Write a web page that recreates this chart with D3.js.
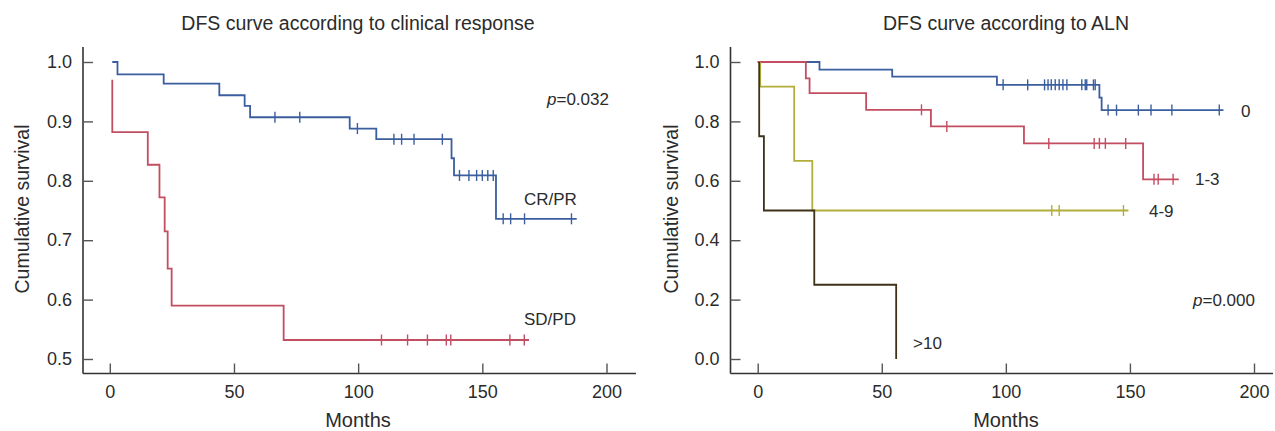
<!DOCTYPE html>
<html>
<head>
<meta charset="utf-8">
<script src="https://cdn.jsdelivr.net/npm/d3@7"></script>
<style>
  body { margin: 0; background: #fff; }
  svg text { font-family: "Liberation Sans", Arial, sans-serif; fill: #2b2b2b; }
</style>
</head>
<body>
<svg id="chart" width="1275" height="431"></svg>
<script>
// ---- data ----
const xTicks = [0, 50, 100, 150, 200];
const leftYTicks = [0.5, 0.6, 0.7, 0.8, 0.9, 1.0];
const rightYTicks = [0, 0.2, 0.4, 0.6, 0.8, 1.0];

// clinical response
const crprTimes = [1, 3.1, 21.7, 44.1, 54.3, 56.5, 96.6, 107.3, 137.6, 138.6, 155.5, 188];
const crprSurv  = [1.0, 0.979, 0.9635, 0.944, 0.926, 0.907, 0.888, 0.870, 0.838, 0.809, 0.736, 0.736];
const crprCensor = [66.5, 76.5, 99.7, 114.4, 117.5, 122.5, 133.9, 140.8, 144.6, 147.7, 150, 152.2, 154.4, 158.4, 161.4, 167, 185.9];

const sdpdTimes = [1, 1, 15.3, 20, 22.1, 23.3, 24.9, 70, 168.8];
const sdpdSurv  = [0.97, 0.882, 0.827, 0.772, 0.715, 0.652, 0.590, 0.532, 0.532];
const sdpdCensor = [109.4, 119.9, 127.9, 135.5, 137.3, 161.1, 166.9];

// ALN groups
const aln0Times = [0, 24.9, 54.2, 96.4, 137.7, 138.6, 187.7];
const aln0Surv  = [1.0, 0.974, 0.951, 0.923, 0.88, 0.838, 0.838];
const aln0Censor = [98.9, 108.8, 115.6, 117, 118.3, 119.9, 121.5, 123, 124.6, 130.6, 132, 132.6, 135.3, 136,
                    141.2, 144.6, 153.4, 158.5, 166.9, 186];

const aln13Times = [0, 19.4, 20.9, 43.7, 69.8, 107.3, 155.3, 169.7];
const aln13Surv  = [1.0, 0.945, 0.895, 0.839, 0.783, 0.726, 0.605, 0.605];
const aln13Censor = [66, 76.2, 117.3, 135.6, 137.7, 140.1, 148.3, 159.7, 161.4, 167.4];

const aln49Times = [1, 1, 14.7, 22, 149.4];
const aln49Surv  = [1.0, 0.917, 0.667, 0.5, 0.5];
const aln49Censor = [118.5, 121.5, 147.4];

const aln10Times = [0.6, 0.6, 2.5, 22.8, 55.8];
const aln10Surv  = [1.0, 0.75, 0.5, 0.25, 0.0];
const aln10Censor = [];

const svg = d3.select("#chart");
const axisColor = "#333";

function survAt(times, surv, t) {
  var i = d3.bisectRight(times, t) - 1;
  return surv[Math.max(i, 0)];
}

function drawPanel(cfg) {
  var g = svg.append("g");

  var x = d3.scaleLinear().domain([0, 200]).range(cfg.xRange);
  var y = d3.scaleLinear().domain(cfg.yDomain).range([359, 62]);

  // axes lines
  g.append("line")
    .attr("x1", cfg.axisX).attr("x2", cfg.axisX)
    .attr("y1", 47).attr("y2", 373.5)
    .attr("stroke", axisColor).attr("stroke-width", 1.6);
  g.append("line")
    .attr("x1", cfg.axisX).attr("x2", cfg.axisEnd)
    .attr("y1", 373.5).attr("y2", 373.5)
    .attr("stroke", axisColor).attr("stroke-width", 1.6);

  var yAxis = g.append("g")
    .attr("transform", "translate(" + cfg.axisX + ",0)")
    .call(d3.axisLeft(y).tickValues(cfg.yTicks).tickFormat(d3.format(".1f"))
      .tickSizeInner(-10).tickSizeOuter(0).tickPadding(11));
  var xAxis = g.append("g")
    .attr("transform", "translate(0,373.5)")
    .call(d3.axisBottom(x).tickValues(xTicks).tickFormat(d3.format("d"))
      .tickSizeInner(-10).tickSizeOuter(0).tickPadding(12));

  [yAxis, xAxis].forEach(function(a) {
    a.select(".domain").remove();
    a.selectAll(".tick line").attr("stroke", "#555").attr("stroke-width", 1.4);
    a.selectAll(".tick text").attr("font-size", 18).attr("fill", "#2b2b2b")
      .style("font-family", '"Liberation Sans", Arial, sans-serif');
  });

  // titles
  g.append("text")
    .attr("x", cfg.titleX).attr("y", 29.5)
    .attr("text-anchor", "middle").attr("font-size", 19.5)
    .text(cfg.title);
  g.append("text")
    .attr("x", cfg.titleX).attr("y", 427)
    .attr("text-anchor", "middle").attr("font-size", 20)
    .text("Months");
  g.append("text")
    .attr("transform", "translate(" + cfg.yTitleX + ",209) rotate(-90)")
    .attr("text-anchor", "middle").attr("font-size", 19.5)
    .text("Cumulative survival");

  var line = d3.line()
    .x(function(d) { return x(d[0]); })
    .y(function(d) { return y(d[1]); })
    .curve(d3.curveStepAfter);

  cfg.series.forEach(function(s) {
    g.append("path")
      .datum(d3.zip(s.times, s.surv))
      .attr("fill", "none")
      .attr("stroke", s.color)
      .attr("stroke-width", 1.8)
      .attr("d", line);

    g.selectAll(null)
      .data(s.censor)
      .enter()
      .append("line")
      .attr("x1", function(d) { return x(d); })
      .attr("x2", function(d) { return x(d); })
      .attr("y1", function(d) { return y(survAt(s.times, s.surv, d)) - 5.5; })
      .attr("y2", function(d) { return y(survAt(s.times, s.surv, d)) + 5.5; })
      .attr("stroke", s.color)
      .attr("stroke-width", 1.4);
  });

  cfg.labels.forEach(function(l) {
    var t = g.append("text")
      .attr("x", l.x).attr("y", l.y)
      .attr("font-size", 17);
    if (l.p) {
      t.append("tspan").attr("font-style", "italic").text("p");
      t.append("tspan").text(l.text);
    } else {
      t.text(l.text);
    }
  });
}

drawPanel({
  title: "DFS curve according to clinical response",
  titleX: 358,
  yTitleX: 29,
  axisX: 83,
  axisEnd: 636,
  xRange: [109.8, 606.5],
  yDomain: [0.5, 1.0],
  yTicks: leftYTicks,
  series: [
    { times: crprTimes, surv: crprSurv, censor: crprCensor, color: "#3b5e9f" },
    { times: sdpdTimes, surv: sdpdSurv, censor: sdpdCensor, color: "#c34d61" }
  ],
  labels: [
    { x: 547, y: 105, text: "=0.032", p: true },
    { x: 524, y: 205, text: "CR/PR" },
    { x: 524, y: 325, text: "SD/PD" }
  ]
});

drawPanel({
  title: "DFS curve according to ALN",
  titleX: 1006,
  yTitleX: 678,
  axisX: 730.5,
  axisEnd: 1273,
  xRange: [757.7, 1254],
  yDomain: [0, 1.0],
  yTicks: rightYTicks,
  series: [
    { times: aln0Times, surv: aln0Surv, censor: aln0Censor, color: "#3b5e9f" },
    { times: aln13Times, surv: aln13Surv, censor: aln13Censor, color: "#c34d61" },
    { times: aln49Times, surv: aln49Surv, censor: aln49Censor, color: "#b3ae3a" },
    { times: aln10Times, surv: aln10Surv, censor: aln10Censor, color: "#3e3219" }
  ],
  labels: [
    { x: 1241, y: 117, text: "0" },
    { x: 1195, y: 185, text: "1-3" },
    { x: 1149, y: 217, text: "4-9" },
    { x: 913, y: 349, text: ">10" },
    { x: 1193, y: 306, text: "=0.000", p: true }
  ]
});
</script>
</body>
</html>
